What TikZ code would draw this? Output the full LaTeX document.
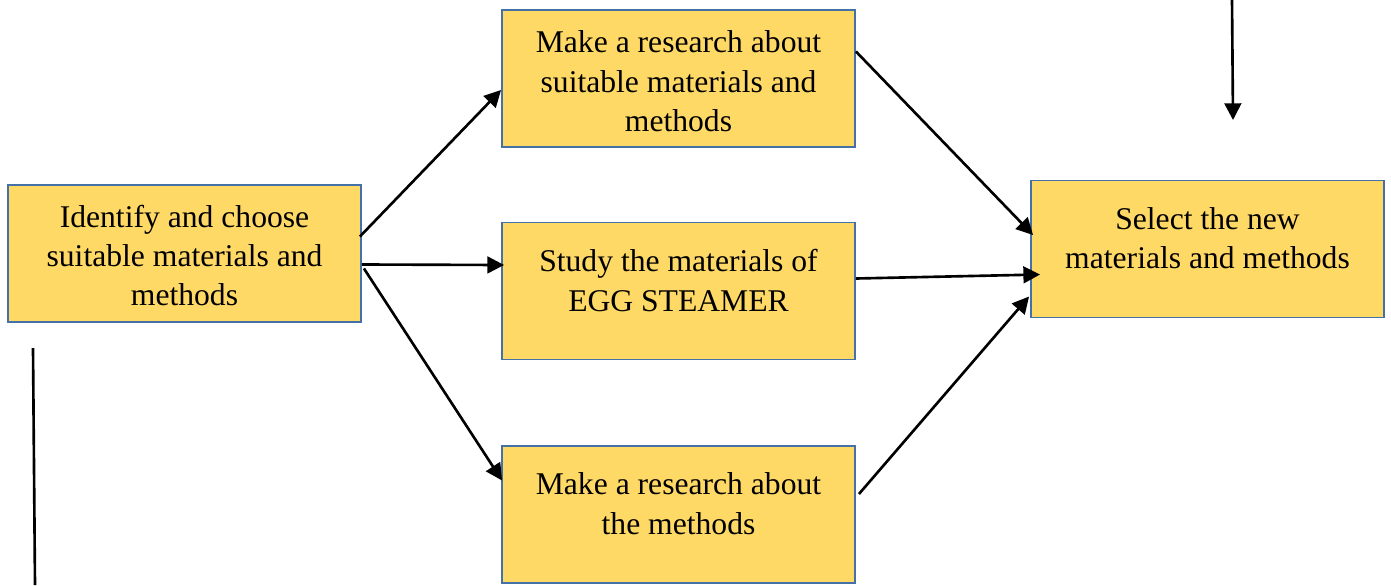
\documentclass[tikz,border=0pt]{standalone}
\usepackage{fontspec}
\setmainfont{Liberation Serif}
\usetikzlibrary{calc,arrows.meta}

\definecolor{boxfill}{HTML}{FFD966}
\definecolor{boxline}{HTML}{4472A8}

\tikzset{
    procbox/.style={draw=boxline, fill=boxfill, line width=1.1pt, minimum width=7.06cm, minimum height=2.74cm, inner sep=0pt},
    boxtext/.style={align=center, inner sep=0pt, font=\fontsize{18}{22.4}\selectfont},
    flow/.style={-{Triangle[length=9.5pt,width=9.5pt]}, line width=1.5pt},
}

\begin{document}
\begin{tikzpicture}[x=0.02cm, y=-0.02cm]

        \useasboundingbox (0,0) rectangle (1391,585);

        % Boxes
        \node[procbox] (A) at (184.5,253.5) {};
        \node[procbox] (B) at (678.5,78.5) {};
        \node[procbox] (C) at (678.5,291) {};
        \node[procbox] (D) at (678.5,514.5) {};
        \node[procbox] (E) at (1207.5,249) {};

        % Box texts
        \node[boxtext] (Atext) at ($(A.center)+(0,2)$) {Identify and choose\\suitable materials and\\methods};
        \node[boxtext] (Btext) at ($(B.center)+(0,3)$) {Make a research about\\suitable materials and\\methods};
        \node[boxtext] (Ctext) at ($(C.center)+(0,-10.5)$) {Study the materials of\\EGG STEAMER};
        \node[boxtext] (Dtext) at ($(D.center)+(0,-11)$) {Make a research about\\the methods};
        \node[boxtext] (Etext) at ($(E.center)+(0,-11)$) {Select the new\\materials and methods};

        % Arrows out of A
        \draw[flow] ($(A.east)+(-2,-17)$) -- ($(B.west)+(0,11.5)$);
        \draw[flow] ($(A.east)+(0,11)$) -- ($(C.west)+(3,-26)$);
        \draw[flow] ($(A.east)+(2,15)$) -- ($(D.west)+(1,-34)$);

        % Arrows into E
        \draw[flow] ($(B.east)+(0,-27)$) -- ($(E.west)+(3,-14)$);
        \draw[flow] ($(C.east)+(0,-12.5)$) -- ($(E.west)+(10,25.5)$);
        \draw[flow] ($(D.east)+(3,-20.5)$) -- ($(E.west)+(-1,47.5)$);

        % Loose lines at the edges
        \coordinate (topstart) at (1232,0);
        \coordinate (topend) at (1233,120);
        \draw[flow] (topstart) -- (topend);

        \coordinate (leftstart) at (33,348);
        \coordinate (leftend) at (35,585);
        \draw[line width=1.5pt] (leftstart) -- (leftend);

\end{tikzpicture}
\end{document}
